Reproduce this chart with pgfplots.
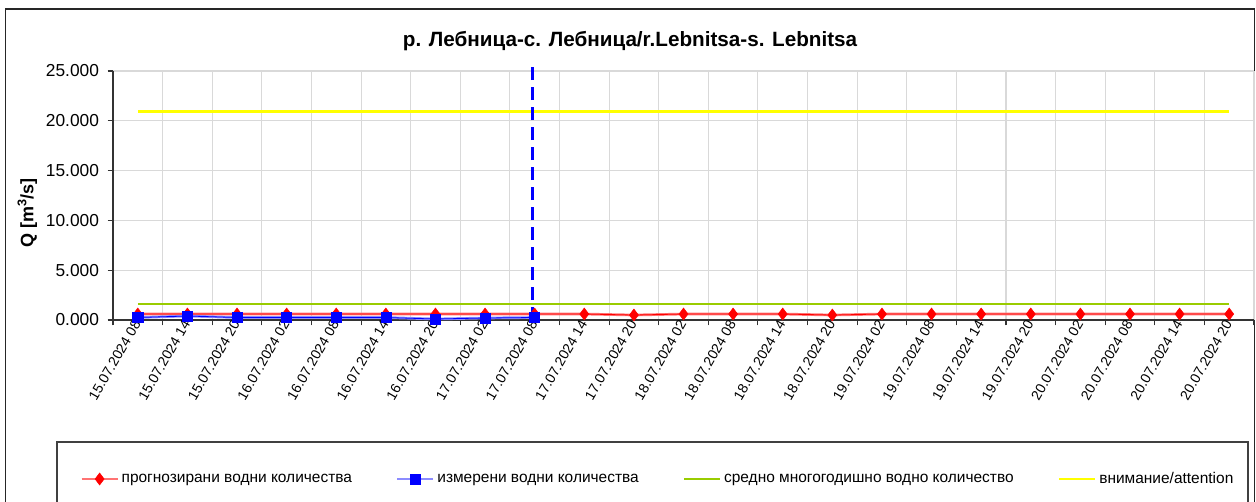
\documentclass[border=0pt]{standalone}
\usepackage{pgfplots}
\pgfplotsset{compat=1.18}
\usepackage{fontspec}
\setmainfont{Liberation Sans}
\definecolor{gridc}{HTML}{D9D9D9}
\definecolor{avgc}{HTML}{99CC00}
\definecolor{attc}{HTML}{FFFF00}
\begin{document}
\begin{tikzpicture}[x=0.75pt,y=0.75pt]
\useasboundingbox (0,0) rectangle (1256,501);
\draw[black!85, line width=1.1pt] (5.5,-20) -- (5.5,492) -- (1254.5,492) -- (1254.5,-20);
\node[font=\bfseries\fontsize{15.5}{18}\selectfont] at (630,460) {р. Лебница-с. Лебница/r.Lebnitsa-s. Lebnitsa};
\begin{axis}[
  at={(84.75pt,135.75pt)}, anchor=south west,
  scale only axis, width=855.75pt, height=186.75pt,
  xmin=-0.5, xmax=22.5, ymin=0, ymax=25,
  clip=false,
  axis lines*=left,
  axis line style={black!80, line width=0.8pt},
  ytick={0,5,...,25},
  ymajorgrids,
  grid style={gridc, line width=0.8pt},
  yticklabel style={font=\fontsize{13}{15}\selectfont, xshift=-3pt, /pgf/number format/.cd, fixed, fixed zerofill, precision=3, assume math mode=true},
  tick align=outside,
  major tick length=4pt,
  tick style={black!80, line width=0.8pt},
  xtick={-0.5,0.5,...,22.5},
  xticklabels={},
  xmajorgrids,
  extra x ticks={0,...,22},
  extra x tick labels={15.07.2024 08,15.07.2024 14,15.07.2024 20,16.07.2024 02,16.07.2024 08,16.07.2024 14,16.07.2024 20,17.07.2024 02,17.07.2024 08,17.07.2024 14,17.07.2024 20,18.07.2024 02,18.07.2024 08,18.07.2024 14,18.07.2024 20,19.07.2024 02,19.07.2024 08,19.07.2024 14,19.07.2024 20,20.07.2024 02,20.07.2024 08,20.07.2024 14,20.07.2024 20},
  extra x tick style={xmajorgrids=false, major tick length=0pt, xticklabel style={font=\fontsize{10.5}{12}\selectfont, rotate=60, anchor=east, inner sep=1pt}},
  ylabel={Q [m\textsuperscript{3}/s]},
  ylabel style={font=\bfseries\fontsize{13.5}{16}\selectfont, at={(axis description cs:-0.075,0.43)}, anchor=center},
  legend columns=4,
  legend cell align=left,
  legend image code/.code={\draw[mark repeat=2,mark phase=2,#1] plot coordinates {(0pt,0pt)(13.5pt,0pt)(27pt,0pt)};},
  legend style={draw=none, fill=none, inner sep=0pt, at={(axis description cs:-0.0289,-0.6385)}, anchor=west, font=\fontsize{11.6}{14}\selectfont, /tikz/every even column/.append style={column sep=31pt}},
]
% forecast
\addplot[color=red!55, line width=2pt, mark=diamond*, mark size=4.5pt, mark options={draw=red, fill=red, line width=0.4pt}] coordinates {
(0,0.6)(1,0.6)(2,0.6)(3,0.6)(4,0.6)(5,0.6)(6,0.6)(7,0.6)(8,0.6)(9,0.6)(10,0.5)(11,0.6)(12,0.6)(13,0.6)(14,0.5)(15,0.6)(16,0.6)(17,0.6)(18,0.6)(19,0.6)(20,0.6)(21,0.6)(22,0.6)};
\addlegendentry{прогнозирани водни количества}
% measured
\addplot[color=blue!45, line width=2pt, mark=square*, mark size=3.8pt, mark options={draw=blue, fill=blue, line width=0.4pt}] coordinates {
(0,0.25)(1,0.4)(2,0.25)(3,0.25)(4,0.25)(5,0.25)(6,0.1)(7,0.2)(8,0.25)};
\addlegendentry{измерени водни количества}
% average
\addplot[color=avgc, line width=2pt] coordinates {(0,1.6)(22,1.6)};
\addlegendentry{средно многогодишно водно количество}
% attention
\addplot[color=attc, line width=2.2pt] coordinates {(0,20.9)(22,20.9)};
\addlegendentry{внимание/attention}
% thin overlays
\addplot[forget plot, color=red, line width=0.6pt] coordinates {
(0,0.6)(1,0.6)(2,0.6)(3,0.6)(4,0.6)(5,0.6)(6,0.6)(7,0.6)(8,0.6)(9,0.6)(10,0.5)(11,0.6)(12,0.6)(13,0.6)(14,0.5)(15,0.6)(16,0.6)(17,0.6)(18,0.6)(19,0.6)(20,0.6)(21,0.6)(22,0.6)};
\addplot[forget plot, color=blue, line width=0.6pt] coordinates {
(0,0.25)(1,0.4)(2,0.25)(3,0.25)(4,0.25)(5,0.25)(6,0.1)(7,0.2)(8,0.25)};
% present-time marker
\addplot[forget plot, color=blue, line width=2.2pt, dash pattern=on 10pt off 5pt] coordinates {(7.95,0)(7.95,25.6)};
\end{axis}
\draw[black!75, line width=0.8pt] (57,-20) -- (57,59) -- (1248,59) -- (1248,-20);
\end{tikzpicture}
\end{document}
